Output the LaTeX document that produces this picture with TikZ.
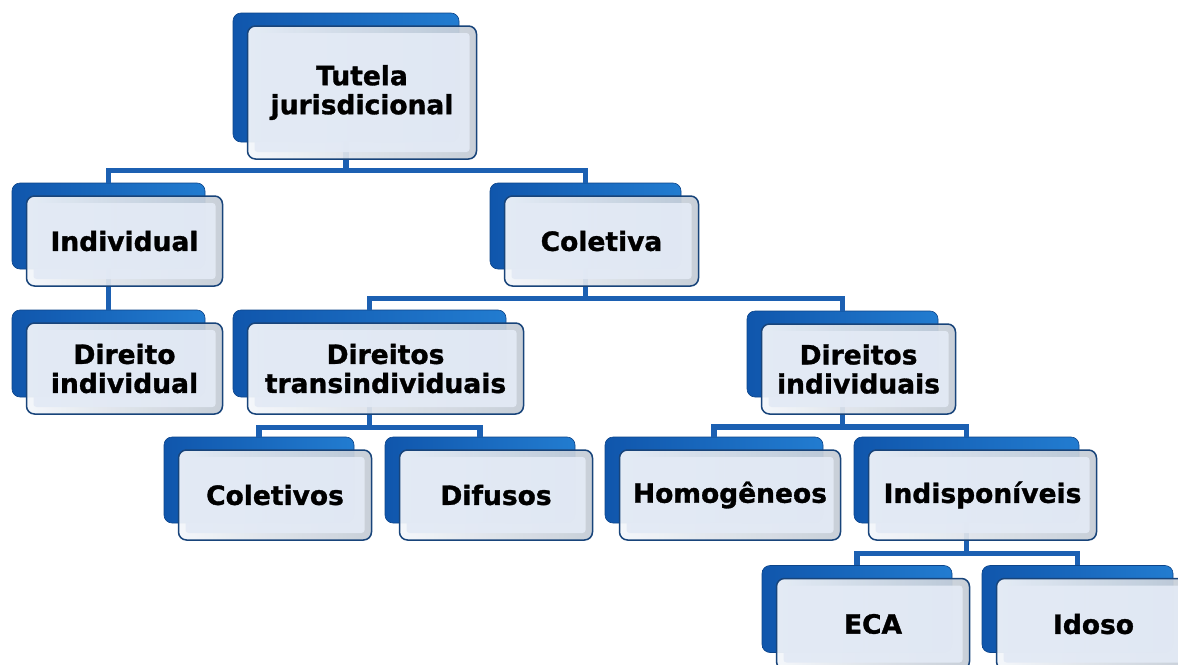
\documentclass[tikz,border=0pt]{standalone}
\usepackage{fontspec}
\setmainfont{DejaVu Sans}[BoldFeatures={FakeBold=1.2}]
\usetikzlibrary{calc}
\definecolor{connblue}{RGB}{28,96,178}
\definecolor{backL}{RGB}{16,86,172}
\definecolor{backR}{RGB}{34,124,208}
\definecolor{frontedge}{RGB}{24,68,122}
\definecolor{bevL}{RGB}{244,247,251}
\definecolor{bevR}{RGB}{196,204,214}
\definecolor{frontin}{RGB}{227,234,245}
\tikzset{
  backbox/.style={rectangle, rounded corners=8pt, left color=backL, right color=backR, draw=backL!80!black, line width=0.6pt, inner sep=0pt},
  frontbox/.style={rectangle, rounded corners=8pt, left color=bevL, right color=bevR, draw=frontedge, line width=1.5pt, inner sep=0pt, fill opacity=0.93, text opacity=1, align=center,
    font=\bfseries\fontsize{26.5}{29}\selectfont,
    path picture={\fill[frontin, rounded corners=3pt] ([xshift=7pt,yshift=-7pt]path picture bounding box.north west) rectangle ([xshift=-7pt,yshift=7pt]path picture bounding box.south east);}},
  conn/.style={draw=connblue, line width=5.5pt, line join=miter}
}
\begin{document}
\begin{tikzpicture}[x=1pt,y=-1pt]
\useasboundingbox[fill=white] (0,0) rectangle (1178,664);
% back boxes
\node[backbox, minimum width=226pt, minimum height=129pt] (rootb) at (346,77.5) {};
\node[backbox, minimum width=193pt, minimum height=86pt] (indb) at (108.5,226) {};
\node[backbox, minimum width=193pt, minimum height=87pt] (dirindb) at (108.5,353.5) {};
\node[backbox, minimum width=191pt, minimum height=86pt] (colb) at (585.5,226) {};
\node[backbox, minimum width=273pt, minimum height=87pt] (transb) at (369.5,353.5) {};
\node[backbox, minimum width=191pt, minimum height=86pt] (dirindsb) at (842.5,354) {};
\node[backbox, minimum width=190pt, minimum height=86pt] (coletivosb) at (259,480) {};
\node[backbox, minimum width=190pt, minimum height=86pt] (difusosb) at (480,480) {};
\node[backbox, minimum width=218pt, minimum height=86pt] (homogb) at (714,480) {};
\node[backbox, minimum width=225pt, minimum height=86pt] (indispb) at (966.5,480) {};
\node[backbox, minimum width=190pt, minimum height=87pt] (ecab) at (857,609) {};
\node[backbox, minimum width=191pt, minimum height=87pt] (idosob) at (1077.5,609) {};
% connectors
\draw[conn] (rootb.south) -- ++(0,28) -| (indb.north);
\draw[conn] (rootb.south) -- ++(0,28) -| (colb.north);
\draw[conn] (indb.south) -- (dirindb.north);
\draw[conn] (colb.south) -- ++(0,29) -| (transb.north);
\draw[conn] (colb.south) -- ++(0,29) -| (dirindsb.north);
\draw[conn] (transb.south) -- ++(0,30) -| (coletivosb.north);
\draw[conn] (transb.south) -- ++(0,30) -| (difusosb.north);
\draw[conn] (dirindsb.south) -- ++(0,29.5) -| (homogb.north);
\draw[conn] (dirindsb.south) -- ++(0,29.5) -| (indispb.north);
\draw[conn] (indispb.south) -- ++(0,30) -| (ecab.north);
\draw[conn] (indispb.south) -- ++(0,30) -| (idosob.north);
% front boxes
\node[frontbox, minimum width=229pt, minimum height=133pt] (root) at ($(rootb.center)+(16,15)$) {Tutela\\jurisdicional};
\node[frontbox, minimum width=196pt, minimum height=90pt] (ind) at ($(indb.center)+(16,15)$) {Individual};
\node[frontbox, minimum width=196pt, minimum height=91pt] (dirind) at ($(dirindb.center)+(16,15)$) {Direito\\individual};
\node[frontbox, minimum width=194pt, minimum height=90pt] (col) at ($(colb.center)+(16,15)$) {Coletiva};
\node[frontbox, minimum width=276pt, minimum height=91pt] (trans) at ($(transb.center)+(16,15)$) {Direitos\\transindividuais};
\node[frontbox, minimum width=194pt, minimum height=90pt] (dirinds) at ($(dirindsb.center)+(16,15)$) {Direitos\\individuais};
\node[frontbox, minimum width=193pt, minimum height=90pt] (coletivos) at ($(coletivosb.center)+(16,15)$) {Coletivos};
\node[frontbox, minimum width=193pt, minimum height=90pt] (difusos) at ($(difusosb.center)+(16,15)$) {Difusos};
\node[frontbox, minimum width=221pt, minimum height=90pt] (homog) at ($(homogb.center)+(16,15)$) {Homogêneos};
\node[frontbox, minimum width=228pt, minimum height=90pt] (indisp) at ($(indispb.center)+(16,15)$) {Indisponíveis};
\node[frontbox, minimum width=193pt, minimum height=91pt] (eca) at ($(ecab.center)+(16,15)$) {ECA};
\node[frontbox, minimum width=194pt, minimum height=91pt] (idoso) at ($(idosob.center)+(16,15)$) {Idoso};
\end{tikzpicture}
\end{document}
